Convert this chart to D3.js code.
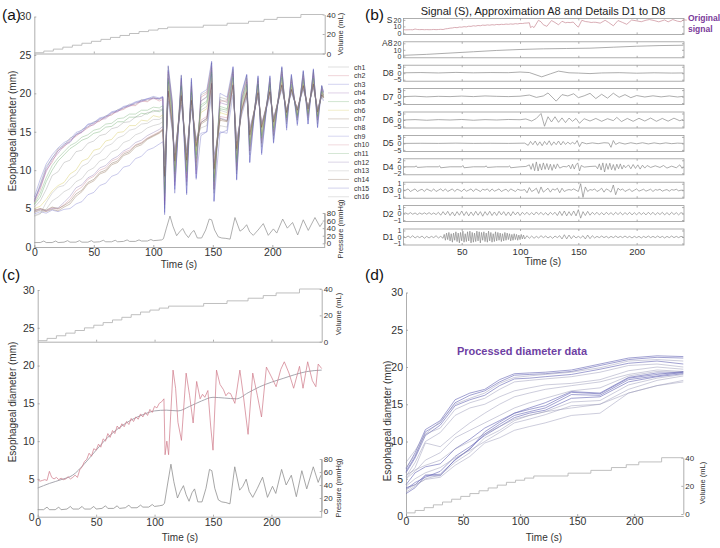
<!DOCTYPE html>
<html><head><meta charset="utf-8">
<script src="https://cdn.jsdelivr.net/npm/d3@7"></script>
<style>body{margin:0;background:#fff}</style>
</head><body><svg id="c" width="720" height="548"></svg>
<script>
// ---------- shared data ----------
const TIME_TICKS = [0, 50, 100, 150, 200];
const DIAM_TICKS = [0, 5, 10, 15, 20, 25, 30];
const VOL_TICKS = [0, 20, 40];
const PRES_TICKS = [0, 20, 40, 60, 80];
const VOL_T = [0, 8, 16, 24, 32, 40, 48, 56, 64, 72, 80, 88, 96, 104, 112, 142, 162, 180, 193, 204, 224, 243];
const VOL_V = [0.8, 2.5, 4.5, 6.5, 8.5, 10.5, 12.5, 14.5, 16.5, 18.5, 20.5, 22.5, 24, 25.5, 27, 29, 31, 33, 35, 37, 40, 40];
const P_T = [0,5,8,10,15,18,20,25,28,30,35,38,40,45,48,50,55,58,60,65,68,70,75,78,80,85,88,90,95,98,100,104,107,
  108.5,111,114,116.5,119.6,122,124.7,127,129.5,132,134.2,137,140.6,144,147,149,151.5,154.6,157.5,161,164.5,168.6,172.8,175.5,178.4,181,184,188,192.4,196.6,200.9,203.7,208.7,212.6,217,221.3,226,230.2,235.8,240,242.3];
const P_V = [2,2,6,2,2,6,2,3,7,3,3,7,3,3,7,3,4,8,4,4,8,4,5,9,5,5,9,6,6,10,7,8,9,
  12,40,72,45,20,30,39,25,15,28,34,14,14,35,64,62,35,17,14,13,11,68,32,38,49,30,21,35,52,21,38,27,64,40,55,22,62,34,68,44,55];

// ---------- panel (a): 16 channels ----------
const CH_NAMES = ["ch1","ch2","ch3","ch4","ch5","ch6","ch7","ch8","ch9","ch10","ch11","ch12","ch13","ch14","ch15","ch16"];
const TA_PRE = [0,5,10,15,20,25,30,35,40,45,50,55,60,65,70,75,80,85,90,95,100,105,108];
const TA_POST = [109.5,112.5,116,118,123.5,128,132,136,140,145,149,151,156,162,167,170,174,178.5,181,188,191,198,201,208,212,216,221,226,230,234.5,238,241.5,243];
const CH_PRE = [
 [6.0,8.2,10.5,11.5,12.8,13.2,14.2,14.5,15.3,15.6,16.3,16.4,17.1,17.2,17.9,18.0,18.6,18.5,19.2,19.0,19.5,19.2,19.4],
 [5.8,7.5,10.0,11.0,12.6,13.0,13.9,14.4,15.0,15.5,16.0,16.4,16.9,17.2,17.7,17.9,18.4,18.4,19.0,18.9,19.4,19.0,19.2],
 [6.5,8.8,10.8,12.0,12.9,13.6,14.0,14.9,15.2,16.0,16.2,16.8,17.0,17.6,17.8,18.3,18.5,18.9,19.1,19.3,19.6,19.4,19.6],
 [6.2,7.8,9.8,11.3,12.2,13.2,13.6,14.6,14.9,15.7,15.9,16.6,16.7,17.4,17.6,18.1,18.3,18.7,18.9,19.2,19.3,19.3,19.5],
 [5.5,6.5,8.5,10.0,11.2,12.0,12.8,13.3,13.9,14.2,14.8,15.0,15.6,15.7,16.3,16.3,16.9,16.9,17.4,17.3,17.8,17.6,17.9],
 [5.0,5.3,6.2,7.3,8.0,8.4,9.5,10.0,11.2,11.5,12.6,12.8,13.8,14.0,14.9,15.0,15.8,15.8,16.5,16.4,17.1,16.9,17.2],
 [4.5,4.8,4.6,4.9,4.7,5.2,5.6,6.6,7.2,8.2,8.6,9.5,9.8,10.7,11.0,11.9,12.2,13.0,13.3,14.0,14.4,14.8,15.2],
 [5.2,6.0,7.5,9.3,9.8,11.0,11.3,12.4,12.6,13.5,13.8,14.5,14.7,15.4,15.6,16.2,16.3,16.9,17.0,17.5,17.6,17.8,18.0],
 [4.3,4.6,4.4,4.8,4.6,4.9,5.0,5.6,5.9,6.8,7.1,8.0,8.3,9.2,9.5,10.4,10.6,11.5,11.8,12.6,12.9,13.4,13.7],
 [4.8,5.0,4.7,5.1,4.9,5.5,6.2,7.3,7.8,8.8,9.2,10.0,10.3,11.2,11.5,12.3,12.6,13.3,13.6,14.2,14.6,15.0,15.4],
 [5.6,7.0,9.0,10.6,11.6,12.4,13.2,13.6,14.3,14.6,15.2,15.4,16.0,16.1,16.7,16.8,17.3,17.3,17.8,17.8,18.2,18.1,18.4],
 [4.6,4.9,4.7,5.0,5.1,5.8,6.6,7.7,8.1,9.0,9.4,10.3,10.6,11.4,11.8,12.5,12.9,13.6,13.9,14.5,14.9,15.3,15.7],
 [4.0,4.3,5.8,7.0,7.8,8.0,8.9,9.4,10.5,10.9,11.9,12.2,13.1,13.4,14.2,14.5,15.2,15.4,16.0,16.1,16.6,16.6,16.9],
 [4.7,5.0,4.8,5.2,5.0,5.4,5.9,6.9,7.4,8.4,8.8,9.7,10.0,10.9,11.2,12.1,12.4,13.2,13.5,14.1,14.5,14.9,15.3],
 [5.9,8.0,10.2,11.6,12.5,13.4,13.7,14.7,15.0,15.9,16.1,16.7,16.9,17.5,17.7,18.2,18.4,18.8,19.0,19.3,19.4,19.3,19.5],
 [4.1,4.4,4.9,6.0,6.5,7.2,7.6,8.5,8.9,9.9,10.3,11.2,11.5,12.4,12.7,13.6,13.9,14.6,14.9,15.5,15.8,16.0,16.3]
];
const CH_POST = [
 [5.0,23.5,19.0,8.5,22.3,8.0,21.5,10.0,19.8,20.2,24.0,7.0,19.5,19.2,23.2,9.5,19.5,22.3,12.0,22.0,13.0,22.0,14.0,23.3,16.0,22.2,16.5,22.8,16.5,23.0,16.0,21.0,20.0],
 [6.0,22.8,18.5,9.5,21.8,9.0,21.0,11.0,19.5,20.0,23.5,8.0,19.0,19.0,22.8,10.5,19.0,21.8,13.0,21.6,14.0,21.5,15.0,22.8,16.8,21.8,17.0,22.3,17.2,22.6,16.8,20.6,19.8],
 [4.5,23.0,18.0,7.5,22.0,7.0,21.8,9.0,20.0,20.5,24.2,6.0,20.0,19.5,23.5,8.8,20.0,22.5,11.0,22.3,12.0,22.3,13.5,23.5,15.5,22.5,16.0,23.0,16.0,23.2,15.5,21.0,20.2],
 [5.5,22.0,17.5,8.0,21.0,8.5,20.5,9.5,19.0,19.5,23.0,7.5,18.8,18.5,22.5,10.0,19.2,21.5,12.5,21.2,13.5,21.3,14.5,22.5,16.5,21.5,16.8,22.0,17.0,22.3,16.5,20.5,19.5],
 [7.0,21.5,17.0,10.0,20.8,10.0,20.0,12.0,18.2,18.8,22.5,9.0,18.0,17.8,22.0,11.5,18.5,21.0,13.5,21.0,14.5,21.0,15.5,22.0,17.0,21.0,17.2,21.5,17.5,21.8,17.0,20.2,19.6],
 [8.0,21.0,16.5,10.5,20.3,10.5,19.5,12.5,17.5,18.0,22.0,9.5,17.5,17.2,21.5,12.0,18.0,20.5,14.0,20.5,15.0,20.6,15.8,21.5,17.2,20.8,17.5,21.2,17.6,21.5,17.2,20.0,19.5],
 [9.0,20.0,15.5,11.0,19.5,11.0,19.0,13.0,16.0,16.5,21.0,10.0,16.5,16.3,21.0,12.5,17.5,20.0,14.5,20.0,15.5,20.2,16.2,21.0,17.5,20.5,17.8,21.0,18.0,21.2,17.5,19.8,19.4],
 [6.5,22.5,18.0,9.0,21.5,9.5,20.8,10.5,19.0,19.6,23.3,7.5,19.2,18.8,23.0,10.0,19.0,22.0,12.5,21.8,13.5,21.8,14.5,23.0,16.3,22.0,16.5,22.5,16.8,22.8,16.5,20.8,19.8],
 [11.0,19.0,15.0,12.5,18.5,12.5,18.0,14.0,14.8,15.0,20.0,12.0,15.0,14.8,19.8,14.0,17.0,19.5,15.5,19.5,16.0,19.5,16.8,20.5,17.8,20.0,18.0,20.5,18.2,20.8,18.0,19.5,19.0],
 [9.5,20.5,16.0,11.5,19.8,11.5,19.2,13.5,16.5,17.0,21.5,10.5,17.0,16.8,21.2,13.0,17.8,20.3,14.8,20.2,15.8,20.3,16.5,21.2,17.6,20.6,17.9,21.0,18.0,21.3,17.8,19.9,19.6],
 [7.5,21.8,17.2,9.8,21.0,9.8,20.2,11.5,18.5,19.0,22.8,8.5,18.3,18.0,22.2,11.0,18.8,21.2,13.2,21.2,14.2,21.2,15.2,22.2,16.8,21.2,17.0,21.8,17.3,22.0,17.0,20.3,19.7],
 [10.0,20.2,15.8,12.0,19.6,12.0,19.0,13.8,16.2,16.8,21.2,11.0,16.8,16.5,21.0,13.5,17.6,20.2,15.0,20.0,16.0,20.2,16.6,21.0,17.7,20.4,17.9,20.8,18.1,21.0,17.9,19.8,19.5],
 [8.5,21.2,16.8,10.8,20.5,10.8,19.8,12.8,17.8,18.3,22.2,9.8,17.8,17.5,21.8,12.2,18.2,20.8,14.2,20.8,15.2,20.8,16.0,21.8,17.3,21.0,17.6,21.5,17.8,21.7,17.4,20.0,19.5],
 [9.2,20.3,15.7,11.2,19.7,11.3,19.1,13.2,16.2,16.7,21.3,10.2,16.7,16.4,21.1,12.8,17.7,20.1,14.6,20.1,15.6,20.2,16.3,21.1,17.5,20.5,17.8,21.0,18.0,21.2,17.6,19.8,19.4],
 [4.2,23.6,18.8,7.0,22.4,6.8,22.0,8.8,14.5,15.0,24.0,5.9,14.8,15.2,23.4,8.7,19.8,22.4,11.0,22.2,12.2,22.2,13.6,23.4,15.2,22.4,15.8,22.9,16.0,23.1,15.6,21.0,20.1],
 [10.5,19.5,15.2,12.2,19.0,12.2,18.5,14.2,15.5,15.8,20.5,11.5,15.8,15.6,20.5,13.8,17.2,19.8,15.2,19.8,16.0,19.8,16.7,20.8,17.8,20.2,18.0,20.6,18.1,20.8,18.0,19.6,19.2]
];
const CH_COLORS = ['#8c8c8c','#c86878','#6464c8','#8a58a8','#58a058','#d0c040','#806040','#909090','#6a6ac8','#c87888','#68a868','#8068a8','#a0a0a0','#705038','#5a5ab8','#999999'];

// ---------- panel (c): one channel + smoothed ----------
const RED_T = [0,2,4,6,8,10,11,12,14,16,18,20,22,24,26,28,30,32,34,36,38,40,42,44,46,48,50,52,54,56,58,60,62,64,66,68,70,72,74,76,78,80,82,84,86,88,90,92,94,96,98,100,102,104,106,108,
  109,110.5,112,115.8,118,120,123,127,130,133,136,139,141,143,145.6,148,150,153,156,159,161,163,165,168.7,173,176,180,184,188,191.5,195.7,200,204,208,211,215,219,224,227,231,235,238,240,243];
const RED_V = [4.9,4.7,4.8,4.9,4.8,6.0,5.6,5.2,5.0,5.2,4.9,5.1,4.9,5.0,5.3,5.0,5.2,5.5,5.2,6.2,6.6,7.3,7.6,8.4,8.0,9.0,8.8,9.6,9.2,10.3,10.0,11.0,10.5,11.4,11.0,12.0,11.6,12.3,11.9,12.6,12.2,13.0,12.6,13.2,12.9,13.6,13.2,13.8,13.4,14.2,13.8,14.6,14.4,15.0,15.2,15.6,
  8.2,10,8.2,19.4,17,12.5,10.1,19,16,12.4,17.9,15.6,16.2,15.8,16.7,12,8.8,19.4,17.5,16.8,16,16.4,16.3,15,19.4,16,10.9,19,16,13.2,19.8,18.5,17.2,19.5,20.5,19,17,19.9,17,20.5,18,17.2,20.2,19.6];
const SMOOTH_T = [0,10,20,30,40,50,60,70,80,90,100,110,120,130,140,150,160,170,180,190,200,210,220,230,243];
const SMOOTH_V = [3.8,4.4,4.9,5.5,7.0,8.8,10.5,11.8,12.8,13.5,14.0,14.1,14.0,14.6,15.3,15.8,15.7,15.6,16.4,17.2,17.8,18.3,18.8,19.2,19.4];

// ---------- panel (b): wavelet decomposition ----------
const A8_T = [0,20,40,60,80,100,120,140,160,180,200,220,240];
const A8_V = [1.5,3,5,7,9,10.5,11.5,12,12.5,14,15.5,16.5,17];
const D8_T = [0,15,30,45,60,75,90,100,108,118.6,126,133,142,150,160,170,185,200,215,230,240];
const D8_V = [0.3,0.5,0.2,0.6,0.3,0.5,0.4,0.9,0.5,-2.8,-0.5,1.6,0.3,0.1,-0.3,0.2,0.4,0,0.3,0.1,0.2];
const D7_T = [0,10,20,30,40,50,60,70,80,90,100,108,114,120,124,131,136,141,146,150,155,160,165,170,175,180,185,190,195,200,207,214,221,228,235,240];
const D7_V = [0,0.3,-0.2,0.2,0,0.4,0,0.5,0.2,0,0.3,1.2,-0.6,0.5,2.8,-3.5,1.5,0.5,2.2,-0.8,0.6,2.5,-1.5,1.8,-1.2,2.6,-0.5,1.5,-0.8,0.8,-0.3,0.6,-0.2,0.5,-0.3,0.2];
const D6_T = [0,10,20,30,40,50,60,70,80,90,100,105,110,114,118,121,124,127,130,133,136,139,142,145,148,151,155,160,165,170,175,180,183,187,192,197,202,207,212,217,222,227,232,237,240];
const D6_V = [0,0.3,-0.2,0.3,0,0.4,-0.2,0.3,0,0.4,0.2,0.8,-0.8,1.2,5,-4.8,2.5,-1.5,2.5,-1.8,1.6,-2,1.5,-1,1.2,-2.5,1,-0.8,1.2,-1,1,-0.5,2,-1.2,1.2,-1,1.3,-0.8,1.5,-1,1.2,-0.9,1.4,-0.6,0.5];
const D5_T = [0,15,30,45,60,75,90,104,107,109,111,113,115,117,119,121,123,125,127,129,131,133,135,137,139,141,143,145,147,149,151,153,157,162,167,172,176,178,180,182,185,190,195,200,205,210,215,220,225,230,235,240];
const D5_V = [0,0.1,0,0.2,0,0.1,0,0.2,-1.5,1.5,-1,1.8,-1.5,1.2,-1.8,1.5,-1,2,-1.5,1.2,-1,1.8,-1.2,1.5,-0.8,1,-0.6,0.8,-0.5,2.2,-2.5,0.8,-0.3,0.4,-0.2,0.5,0.3,-3,2.2,-0.8,0.6,-0.5,0.5,-0.3,0.5,-0.4,0.4,-0.3,0.4,-0.2,0.2,0];
const D4_T = [0,10,11,12,20,30,31,32,40,50,51,52,60,70,71,72,80,90,91,92,100,105,
  108,109.5,111,112.5,114,115.5,117,118.5,120,121.5,123,124.5,126,127.5,129,130.5,132,134,137,
  140,142,143.5,145,146.5,148,149.5,151,152.5,155,160,
  165,166.5,168,169.5,171,172.5,174,175.5,177,178.5,180,181.5,183,184.5,186,187.5,189,190.5,
  193,195,197,199,201,203,205,207,209,212,216,220,223,226,230,234,237,239,240];
const D4_V = [0,0,0.3,-0.2,0,0,0.3,-0.3,0,0,0.4,-0.3,0,0,0.3,-0.2,0,0,0.3,-0.3,0,0.1,
  0.6,-0.8,1.0,-1.2,1.5,-1.3,0.9,-1.0,1.2,-0.8,1.0,-0.9,0.8,-1.1,0.7,-0.6,0.9,-0.4,0.1,
  0,0.5,-0.6,0.8,-0.7,0.6,1.2,-1.3,0.4,-0.1,0.1,
  0.2,-0.6,0.9,-1.0,1.2,-1.6,1.0,-0.8,1.1,-0.9,0.7,-1.1,0.8,-0.6,0.9,-0.7,0.5,-0.3,
  0.6,-0.6,0.7,-0.5,0.6,-0.7,0.5,-0.4,0.4,-0.2,0.3,-0.2,0.4,-0.4,0.2,-0.3,0.6,-0.5,0];
const D3_T = d3.range(0, 241, 2);
const D3_V = [0,0,0.2,-0.2,0,0.2,-0.2,0,0.15,-0.2,0.2,0,-0.15,0.2,-0.2,0,0.2,-0.15,0.2,-0.2,0,0.2,-0.2,0.15,0,-0.2,0.2,-0.15,0,0.2,-0.2,0.2,0,-0.2,0.15,0,0.2,-0.2,0.2,-0.15,0,0.2,-0.2,0,0.15,-0.2,0.2,0,-0.2,0.15,0,
  0,0.1,-0.4,0.4,-0.2,0,0.3,-0.5,0.5,-0.3,0,0.3,-0.3,0.2,0,0.3,-0.4,0.3,-0.2,0,0.1,0,0.2,0,-0.2,1.0,-1.1,0.5,-0.2,0.1,
  0,0.2,-0.2,0,0.3,-0.3,0.2,0,-0.3,0.8,-0.7,0.3,0,0.2,-0.2,0,0.15,-0.2,0,0.2,-0.15,0,0.15,-0.15,0,0.15,-0.2,0.1,0,0.15,-0.15,0,0.1,-0.15,0.1,0,0.15,-0.1,0,0];
const D2_T = d3.range(0, 241, 2);
const D2_V = [0,0.1,-0.1,0.15,-0.1,0.1,-0.15,0.1,-0.1,0.12,-0.1,0.15,-0.12,0.1,-0.15,0.2,
  -0.25,0.3,-0.2,0.35,-0.3,0.25,-0.35,0.3,-0.25,0.4,-0.3,0.3,-0.35,0.25,-0.3,0.35,-0.25,0.3,-0.4,0.3,-0.25,0.35,-0.3,0.25,-0.3,0.35,-0.2,0.3,-0.3,0.25,-0.35,0.3,-0.2,0.25,-0.3,
  0.2,-0.15,0.2,-0.2,0.15,-0.2,0.25,-0.15,0.2,-0.2,0.15,-0.25,0.2,-0.15,0.2,
  -0.3,0.35,-0.3,0.4,-0.35,0.3,-0.3,0.4,-0.35,0.6,-0.7,0.3,-0.3,0.35,-0.25,
  0.2,-0.15,0.2,-0.2,0.15,-0.2,0.2,-0.15,0.15,-0.2,0.2,-0.15,0.2,-0.2,0.15,-0.15,0.2,-0.2,0.15,-0.2,0.2,-0.15,0.15,-0.2,0.2,-0.15,0.2,-0.2,0.15,-0.15,0.2,-0.2,0.15,-0.2,0.2,-0.15,0.15,-0.2,0.15,0];
const D1_T = d3.range(0, 35, 2).concat(d3.range(35, 105, 1), d3.range(106, 241, 2));
const D1_V = [0.1,-0.1,0.15,-0.1,0.2,-0.15,0.1,-0.1,0.15,-0.2,0.1,-0.15,0.1,-0.1,0.2,-0.15,0.1,-0.2,
  0.4,-0.5,0.6,-0.4,0.7,-0.6,0.5,-0.8,0.6,-0.5,0.8,-0.7,0.6,-0.9,0.7,-0.6,0.9,-0.8,0.5,-0.7,
  0.8,-0.6,0.9,-0.9,0.7,-0.8,0.6,-0.7,0.9,-0.6,0.8,-0.9,0.7,-0.5,0.8,-0.7,0.6,-0.8,0.9,-0.6,
  0.7,-0.8,0.5,-0.7,0.8,-0.6,0.7,-0.5,0.6,-0.7,0.5,-0.6,0.7,-0.5,0.6,-0.4,0.5,-0.6,0.4,-0.5,
  0.5,-0.4,0.4,-0.5,0.3,-0.4,0.4,-0.3,0.3,-0.3,
  0.2,-0.2,0.15,-0.2,0.1,-0.15,0.2,-0.1,0.15,-0.15,0.1,-0.2,0.15,-0.1,0.2,-0.3,0.35,-0.3,0.3,-0.25,
  0.2,-0.15,0.1,-0.15,0.2,-0.3,0.3,-0.25,0.2,-0.15,0.1,-0.1,0.15,-0.1,0.1,-0.15,0.1,-0.1,0.15,-0.1,
  0.1,-0.1,0.15,-0.1,0.1,-0.15,0.1,-0.1,0.1,-0.15,0.1,-0.1,0.15,-0.1,0.1,-0.1,0.15,-0.1,0.1,-0.15,
  0.1,-0.1,0.15,-0.1,0.1,-0.1,0.1,0];
const ROW_NAMES = ["S","A8","D8","D7","D6","D5","D4","D3","D2","D1"];

// ---------- panel (d): processed ----------
const PD_T = [0, 8, 17, 30, 43, 56, 69, 82, 95, 108, 122, 145, 170, 195, 220, 243];
const PD = [
 [6.3,8.5,11.6,12.8,15.6,16.5,17,18.3,19.1,19.2,19.3,19.6,20.4,21.2,21.5,21.4],
 [6.0,8.0,11.3,12.5,15.2,16.2,16.8,18.0,18.9,19.0,19.1,19.4,20.2,21.0,21.3,21.2],
 [7.2,8.8,11.0,12.7,15.0,15.8,16.5,17.8,18.6,18.8,19.0,19.3,19.9,20.8,21.0,20.8],
 [5.8,7.8,10.8,12.2,14.8,15.6,16.2,17.5,18.4,18.5,18.7,19.0,19.7,20.5,20.8,20.4],
 [6.5,8.2,11.0,11.8,14.3,15.2,15.8,17.0,18.0,18.2,18.4,18.7,19.3,20.2,20.4,20.0],
 [5.3,7.2,10.0,11.2,13.5,14.5,15.0,16.0,16.8,17.2,17.6,17.8,18.3,19.5,20.0,19.7],
 [5.1,6.5,9.8,9.3,11.0,12.5,13.8,15.0,16.0,16.5,17.0,17.5,18.0,19.0,19.6,19.4],
 [5.0,6.0,7.5,8.5,10.5,11.5,12.5,13.5,14.5,15.2,15.8,16.8,17.2,18.8,19.4,19.3],
 [4.2,5.8,6.6,7.0,9.0,10.3,11.8,12.8,13.8,14.5,15.2,16.7,16.5,18.6,19.2,19.2],
 [3.8,4.2,5.5,5.6,7.5,9.0,11.3,12.6,13.8,14.3,14.8,16.6,16.4,18.5,19.0,19.4],
 [3.0,3.8,5.4,5.4,7.6,9.0,11.0,12.3,13.5,14.0,14.5,16.3,16.2,18.3,18.8,19.3],
 [3.6,4.5,5.2,6.0,8.0,9.3,10.8,12.0,13.2,13.8,14.2,15.8,16.0,18.0,18.7,19.1],
 [3.2,4.0,5.0,5.5,7.2,8.5,10.5,11.5,12.8,13.5,14.0,15.3,15.5,17.6,18.5,19.0],
 [4.0,5.0,5.8,6.5,7.8,8.8,10.0,11.2,12.5,13.0,13.6,14.8,15.0,17.0,18.2,18.8],
 [3.5,4.2,4.9,5.2,6.8,8.0,9.8,10.5,11.5,12.0,12.5,13.5,13.8,16.5,17.5,18.2],
 [5.5,6.2,6.8,7.5,9.0,10.0,11.0,12.0,13.0,13.5,14.0,14.5,15.0,16.5,17.5,18.0]
];
const PD_DARK = [true,true,false,true,false,false,false,false,true,true,true,true,false,false,false,false];

// ---------- drawing helpers ----------
const svg = d3.select('#c');
const FONT = '"Liberation Sans", Arial, sans-serif';
const AX = '#9a9a9a', TXT = '#333';
const INT = d3.format('d');
function sty(g, fs) {
  g.select('.domain').attr('stroke', AX).attr('stroke-width', 0.8);
  g.selectAll('.tick line').attr('stroke', AX).attr('stroke-width', 0.8);
  g.selectAll('.tick text').attr('fill', TXT).attr('font-size', fs).attr('font-family', FONT);
  return g;
}
function txt(x, y, s, fs, o = {}) {
  const t = svg.append('text').attr('x', x).attr('y', y).text(s)
    .attr('font-size', fs).attr('font-family', FONT)
    .attr('fill', o.fill || TXT).attr('text-anchor', o.anchor || 'middle');
  if (o.rot) t.attr('transform', `rotate(-90,${x},${y})`);
  if (o.weight) t.attr('font-weight', o.weight);
  return t;
}
function line(xs, ys, T, V, color, w, op, curve) {
  const data = T.map((t, i) => [t, V[i]]).filter(d => d[1] !== undefined);
  svg.append('path').datum(data)
    .attr('d', d3.line().x(d => xs(d[0])).y(d => ys(d[1])).curve(curve || d3.curveLinear))
    .attr('fill', 'none').attr('stroke', color).attr('stroke-width', w).attr('stroke-opacity', op);
}
function diamAxes(xs, ys, vs, ps, x0, x1) {
  const y0 = ys(0);
  sty(svg.append('g').attr('transform', `translate(${x0},0)`)
    .call(d3.axisLeft(ys).tickValues(DIAM_TICKS).tickFormat(INT).tickSize(-2).tickSizeOuter(0).tickPadding(3)), 10.5);
  sty(svg.append('g').attr('transform', `translate(0,${y0})`)
    .call(d3.axisBottom(xs).tickValues(TIME_TICKS).tickFormat(INT).tickSize(-2).tickSizeOuter(0).tickPadding(2)), 10.5);
  if (vs) {
    sty(svg.append('g').attr('transform', `translate(0,${vs(0)})`)
      .call(d3.axisBottom(xs).tickValues(TIME_TICKS.slice(1)).tickSize(-2).tickSizeOuter(0).tickFormat('')), 8);
    sty(svg.append('g').attr('transform', `translate(${x1},0)`)
      .call(d3.axisRight(vs).tickValues(VOL_TICKS).tickFormat(INT).tickSize(-2).tickSizeOuter(0).tickPadding(2)), 8);
  }
  if (ps) {
    sty(svg.append('g').attr('transform', `translate(${x1},0)`)
      .call(d3.axisRight(ps).tickValues(PRES_TICKS).tickFormat(INT).tickSize(-2).tickSizeOuter(0).tickPadding(2)), 8);
  }
}

// ================= PANEL (a) =================
{
  const xs = d3.scaleLinear([0, 244], [34.3, 324.7]);
  const ys = d3.scaleLinear([0, 30], [247, 16.5]);
  const vs = d3.scaleLinear([0, 40], [53.5, 14.5]);
  const ps = d3.scaleLinear([0, 80], [243.3, 213]);
  diamAxes(xs, ys, vs, ps, 34.3, 324.7);
  svg.append('line').attr('x1', 324.7).attr('x2', 324.7).attr('y1', 213).attr('y2', 247).attr('stroke', AX).attr('stroke-width', 0.8);
  line(xs, vs, VOL_T, VOL_V, '#b8b8b8', 0.9, 1, d3.curveStepAfter);
  CH_PRE.forEach((pre, i) => {
    line(xs, ys, TA_PRE.concat(TA_POST), pre.concat(CH_POST[i]), CH_COLORS[i], 0.8, 0.45);
  });
  line(xs, ps, P_T, P_V, '#9a9a9a', 0.8, 1);
  txt(2, 20, '(a)', 15.5, { anchor: 'start', fill: '#111' });
  txt(16, 131, 'Esophageal diameter (mm)', 10, { rot: true });
  txt(179, 268, 'Time (s)', 10);
  txt(343, 34, 'Volume (mL)', 7.5, { rot: true });
  txt(343, 229, 'Pressure (mmHg)', 7.5, { rot: true });
  CH_NAMES.forEach((n, i) => {
    const y = 67 + i * 8.65;
    svg.append('line').attr('x1', 328).attr('x2', 349).attr('y1', y).attr('y2', y)
      .attr('stroke', CH_COLORS[i]).attr('stroke-opacity', 0.35).attr('stroke-width', 0.8);
    txt(354, y + 2.5, n, 7, { anchor: 'start' });
  });
}

// ================= PANEL (b) =================
{
  const xs = d3.scaleLinear([0, 240.6], [403.4, 684]);
  const SERIES = [[RED_T, RED_V], [A8_T, A8_V], [D8_T, D8_V], [D7_T, D7_V], [D6_T, D6_V], [D5_T, D5_V], [D4_T, D4_V], [D3_T, D3_V], [D2_T, D2_V], [D1_T, D1_V]];
  const TICKS = [[0,10,20],[0,10,20],[-5,0,5],[-5,0,5],[-5,0,5],[-5,0,5],[-2,0,2],[-1,0,1],[-1,0,1],[-1,0,1]];
  const DOMS = [[-2.3,22.3],[-2.3,22.3],[-6.15,6.15],[-6.15,6.15],[-6.15,6.15],[-6.15,6.15],[-2.46,2.46],[-1.23,1.23],[-1.23,1.23],[-1.23,1.23]];
  ROW_NAMES.forEach((name, i) => {
    const cy = 26.4 + 23.4 * i;
    const ys = d3.scaleLinear(DOMS[i], [cy + 8, cy - 8]);
    svg.append('rect').attr('x', 403.4).attr('y', cy - 8).attr('width', 684 - 403.4).attr('height', 16)
      .attr('fill', 'none').attr('stroke', AX).attr('stroke-width', 0.8);
    const gl = sty(svg.append('g').attr('transform', 'translate(403.4,0)')
      .call(d3.axisLeft(ys).tickValues(TICKS[i]).tickFormat(INT).tickSize(-2).tickSizeOuter(0).tickPadding(2)), 7);
    gl.select('.domain').remove();
    const gr = sty(svg.append('g').attr('transform', 'translate(684,0)')
      .call(d3.axisRight(ys).tickValues(TICKS[i]).tickSize(-2).tickSizeOuter(0).tickFormat('')), 7);
    gr.select('.domain').remove();
    const gt = sty(svg.append('g').attr('transform', `translate(0,${cy - 8})`)
      .call(d3.axisTop(xs).tickValues(TIME_TICKS.slice(1)).tickSize(-2).tickSizeOuter(0).tickFormat('')), 8);
    gt.select('.domain').remove();
    const gb = sty(svg.append('g').attr('transform', `translate(0,${cy + 8})`)
      .call(d3.axisBottom(xs).tickValues(TIME_TICKS.slice(1)).tickSize(-2).tickSizeOuter(0).tickPadding(3)
        .tickFormat(i === 9 ? INT : '')), 9.5);
    gb.select('.domain').remove();
    const ny = i < 2 ? ys(20) + 3 : cy + 3;
    txt(i < 2 ? 392.5 : 393.5, ny, name, 8.5, { anchor: 'end' });
    line(xs, ys, SERIES[i][0], SERIES[i][1], i === 0 ? '#c98a95' : '#8a8a8a', 0.7, 1);
  });
  txt(543, 15, 'Signal (S), Approximation A8 and Details D1 to D8', 11, { fill: '#222' });
  txt(365, 20, '(b)', 15.5, { anchor: 'start', fill: '#111' });
  txt(543, 265, 'Time (s)', 10);
  txt(688, 21, 'Original', 8.5, { anchor: 'start', fill: '#7a3a9a', weight: 'bold' });
  txt(688, 32, 'signal', 8.5, { anchor: 'start', fill: '#7a3a9a', weight: 'bold' });
}

// ================= PANEL (c) =================
{
  const xs = d3.scaleLinear([0, 243], [37.7, 321.7]);
  const ys = d3.scaleLinear([0, 30], [516.7, 290]);
  const vs = d3.scaleLinear([0, 40], [341.7, 289]);
  const ps = d3.scaleLinear([0, 80], [511, 459]);
  diamAxes(xs, ys, vs, ps, 37.7, 321.7);
  svg.append('line').attr('x1', 321.7).attr('x2', 321.7).attr('y1', 459).attr('y2', 516.7).attr('stroke', AX).attr('stroke-width', 0.8);
  line(xs, vs, VOL_T, VOL_V, '#b8b8b8', 0.9, 1, d3.curveStepAfter);
  line(xs, ys, SMOOTH_T, SMOOTH_V, '#a8a8b0', 1, 1, d3.curveMonotoneX);
  line(xs, ys, RED_T, RED_V, '#d07a8a', 0.9, 0.8);
  line(xs, ps, P_T, P_V, '#909090', 0.8, 1);
  txt(2, 280, '(c)', 15.5, { anchor: 'start', fill: '#111' });
  txt(16, 402, 'Esophageal diameter (mm)', 10, { rot: true });
  txt(180, 541, 'Time (s)', 10);
  txt(341, 314, 'Volume (mL)', 7.5, { rot: true });
  txt(341, 488, 'Pressure (mmHg)', 7.5, { rot: true });
}

// ================= PANEL (d) =================
{
  const xs = d3.scaleLinear([0, 243], [406, 683.3]);
  const ys = d3.scaleLinear([0, 30], [516, 292.5]);
  const vs = d3.scaleLinear([0, 40], [514, 457.7]);
  diamAxes(xs, ys, null, null, 406, 683.3);
  sty(svg.append('g').attr('transform', 'translate(683.3,0)')
    .call(d3.axisRight(vs).tickValues(VOL_TICKS).tickFormat(INT).tickSize(-2).tickSizeOuter(0).tickPadding(2)), 8);
  line(xs, vs, VOL_T, VOL_V, '#b8b8b8', 0.9, 1, d3.curveStepAfter);
  PD.forEach((v, i) => line(xs, ys, PD_T, v, PD_DARK[i] ? '#6a6ab8' : '#9a9ab8', 0.9, PD_DARK[i] ? 0.7 : 0.55));
  txt(365, 280, '(d)', 15.5, { anchor: 'start', fill: '#111' });
  txt(391, 421, 'Esophageal diameter (mm)', 10, { rot: true });
  txt(544, 541, 'Time (s)', 10);
  txt(705, 483, 'Volume (mL)', 7.5, { rot: true });
  txt(522, 355, 'Processed diameter data', 11, { fill: '#6e3fa3', weight: 'bold' });
}
</script>
</body></html>
